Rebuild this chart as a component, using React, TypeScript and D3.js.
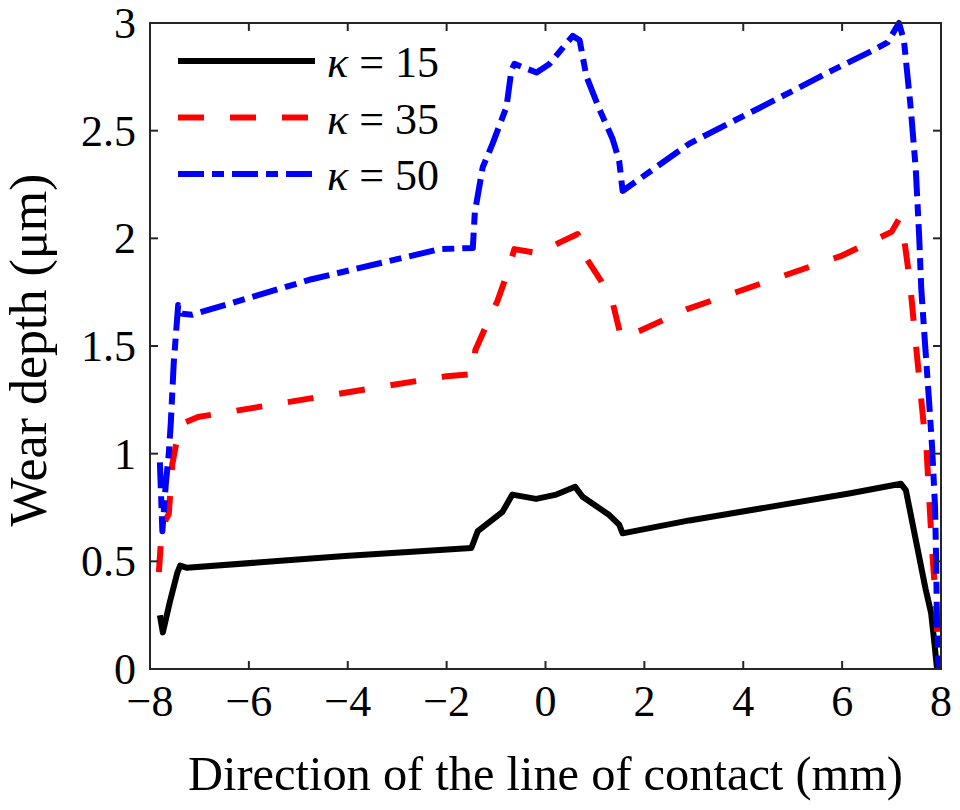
import { useEffect, useRef } from 'react';
import * as d3 from 'd3';

// wear depth profiles (x in mm, depth in µm)
const k15X = [-7.8, -7.74, -7.6, -7.45, -7.39, -7.25, -4.06, -1.5, -1.37, -0.87, -0.67, -0.19, 0.22, 0.6, 0.75, 1.29, 1.49, 1.56, 2.91, 6.14, 7.19, 7.29, 7.49, 7.69, 7.8, 7.86, 7.92];
const k15Y = [0.25, 0.17, 0.31, 0.445, 0.48, 0.47, 0.525, 0.562, 0.64, 0.73, 0.81, 0.79, 0.81, 0.846, 0.8, 0.715, 0.67, 0.63, 0.69, 0.815, 0.86, 0.83, 0.6, 0.37, 0.26, 0.135, 0];

const k35X = [-7.82, -7.76, -7.62, -7.55, -7.45, -7.35, -7.03, -4.67, -2.0, -1.47, -1.42, -1.17, -0.97, -0.77, -0.63, -0.12, 0.28, 0.65, 0.79, 1.13, 1.36, 1.53, 1.9, 2.85, 6.0, 7.0, 7.15, 7.22, 7.3, 7.37, 7.47, 7.58, 7.66, 7.7, 7.76, 7.82, 7.9, 7.96];
const k35Y = [0.45, 0.66, 0.72, 0.95, 1.07, 1.14, 1.17, 1.26, 1.36, 1.37, 1.48, 1.61, 1.71, 1.84, 1.95, 1.93, 1.98, 2.02, 1.92, 1.8, 1.7, 1.54, 1.57, 1.67, 1.92, 2.03, 2.09, 2.05, 1.92, 1.8, 1.56, 1.3, 1.11, 1.05, 0.8, 0.55, 0.3, 0];

const k50X = [-7.8, -7.75, -7.68, -7.62, -7.58, -7.52, -7.47, -7.43, -7.35, -7.15, -4.73, -2.14, -1.47, -1.43, -1.27, -1.07, -0.79, -0.69, -0.63, -0.18, 0.08, 0.55, 0.69, 0.83, 1.09, 1.36, 1.49, 1.56, 2.91, 5.13, 5.8, 6.6, 6.92, 7.15, 7.25, 7.39, 7.49, 7.56, 7.6, 7.68, 7.76, 7.82, 7.88, 7.9, 7.92, 7.96];
const k50Y = [0.96, 0.64, 0.86, 1.0, 1.14, 1.42, 1.57, 1.69, 1.65, 1.645, 1.81, 1.95, 1.955, 2.12, 2.33, 2.44, 2.61, 2.78, 2.81, 2.77, 2.81, 2.94, 2.92, 2.75, 2.6, 2.46, 2.36, 2.22, 2.44, 2.7, 2.78, 2.87, 2.91, 3.0, 2.92, 2.6, 2.32, 2.0, 1.77, 1.5, 1.24, 1.03, 0.75, 0.52, 0.2, 0];

const xTicks = [-8, -6, -4, -2, 0, 2, 4, 6, 8];
const yTicks = [0, 0.5, 1, 1.5, 2, 2.5, 3];

const series = [
    { label: '15', xs: k15X, ys: k15Y, color: '#000000', dash: 'none' },
    { label: '35', xs: k35X, ys: k35Y, color: '#ff0000', dash: '26,26' },
    { label: '50', xs: k50X, ys: k50Y, color: '#0000ff', dash: '26,8,12,8' },
];

const App = () => {
    const svgRef = useRef<SVGSVGElement>(null);

    useEffect(() => {
        const width = 960;
        const height = 810;
        const left = 150, right = 941, top = 23, bottom = 669;
        const font = '"Liberation Serif", "Times New Roman", serif';
        const axisColor = '#262626';

        const svg = d3.select(svgRef.current)
            .attr('width', width)
            .attr('height', height);
        svg.selectAll('*').remove();

        const x = d3.scaleLinear().domain([-8, 8]).range([left, right]);
        const y = d3.scaleLinear().domain([0, 3]).range([bottom, top]);

        const clip = svg.append('defs').append('clipPath').attr('id', 'plot-clip');
        clip.append('rect')
            .attr('x', left).attr('y', top - 4)
            .attr('width', right - left + 4).attr('height', bottom - top + 6);

        const line = d3.line<[number, number]>()
            .x(d => x(d[0]))
            .y(d => y(d[1]));

        const plot = svg.append('g').attr('clip-path', 'url(#plot-clip)');
        series.forEach(s => {
            const pts = s.xs.map((v, i) => [v, s.ys[i]] as [number, number]);
            plot.append('path')
                .attr('d', line(pts))
                .attr('fill', 'none')
                .attr('stroke', s.color)
                .attr('stroke-width', 6)
                .attr('stroke-linejoin', 'round')
                .attr('stroke-dasharray', s.dash);
        });

        // box and inward ticks
        const axes = svg.append('g').attr('stroke', axisColor).attr('stroke-width', 2);
        axes.append('rect')
            .attr('x', left).attr('y', top)
            .attr('width', right - left).attr('height', bottom - top)
            .attr('fill', 'none');
        xTicks.forEach(t => {
            axes.append('line').attr('x1', x(t)).attr('x2', x(t)).attr('y1', bottom).attr('y2', bottom - 8);
            axes.append('line').attr('x1', x(t)).attr('x2', x(t)).attr('y1', top).attr('y2', top + 8);
        });
        yTicks.forEach(t => {
            axes.append('line').attr('x1', left).attr('x2', left + 8).attr('y1', y(t)).attr('y2', y(t));
            axes.append('line').attr('x1', right).attr('x2', right - 8).attr('y1', y(t)).attr('y2', y(t));
        });

        const fmt = d3.format('~g');
        svg.append('g')
            .selectAll('text')
            .data(xTicks)
            .enter()
            .append('text')
            .attr('x', d => x(d))
            .attr('y', bottom + 47)
            .attr('text-anchor', 'middle')
            .attr('font-family', font)
            .attr('font-size', 44)
            .attr('fill', '#000')
            .text(d => fmt(d));

        svg.append('g')
            .selectAll('text')
            .data(yTicks)
            .enter()
            .append('text')
            .attr('x', left - 14)
            .attr('y', d => y(d) + 15)
            .attr('text-anchor', 'end')
            .attr('font-family', font)
            .attr('font-size', 44)
            .attr('fill', '#000')
            .text(d => fmt(d));

        svg.append('text')
            .attr('x', (left + right) / 2)
            .attr('y', 790)
            .attr('text-anchor', 'middle')
            .attr('font-family', font)
            .attr('font-size', 48.4)
            .attr('fill', '#000')
            .text('Direction of the line of contact (mm)');

        svg.append('text')
            .attr('transform', `translate(46,${(top + bottom) / 2 + 4}) rotate(-90)`)
            .attr('text-anchor', 'middle')
            .attr('font-family', font)
            .attr('font-size', 52)
            .attr('fill', '#000')
            .text('Wear depth (μm)');

        // legend
        const legend = svg.append('g');
        series.forEach((s, i) => {
            const ly = 61 + i * 56.5;
            legend.append('line')
                .attr('x1', 178).attr('x2', 315)
                .attr('y1', ly).attr('y2', ly)
                .attr('stroke', s.color)
                .attr('stroke-width', 6)
                .attr('stroke-dasharray', s.dash);
            const txt = legend.append('text')
                .attr('x', 327)
                .attr('y', ly + 16)
                .attr('font-family', font)
                .attr('font-size', 44)
                .attr('fill', '#000');
            txt.append('tspan').attr('font-style', 'italic').text('κ');
            txt.append('tspan').text(' = ' + s.label);
        });
    }, []);

    return <svg ref={svgRef} style={{ position: 'absolute', left: 0, top: 0 }}></svg>;
};

export default App;
